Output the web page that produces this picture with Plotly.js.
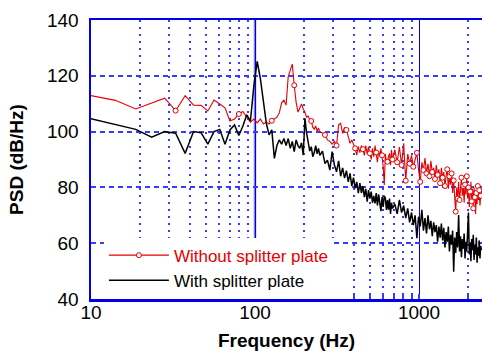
<!DOCTYPE html>
<html>
<head>
<meta charset="utf-8">
<script src="https://cdn.plot.ly/plotly-3.0.1.min.js"></script>
<style>
  html, body { margin: 0; padding: 0; background: #fff; }
  #chart { width: 482px; height: 351px; }
</style>
</head>
<body>
<div id="chart"></div>
<script>
// PSD spectra on the FFT bin grid (bin width 4.6875 Hz).
// Bins 2..53 every bin, 55..147 every 2nd bin, 152..512 every 5th bin.
const BIN_HZ = 4.6875;

// Without splitter plate (dB/Hz)
const redLow = [113.2, 111.2, 108.1, 110.3, 112.0, 107.5, 112.9, 109.5, 109.4, 107.4,
  111.3, 109.9, 108.5, 103.8, 104.5, 106.3, 107.2, 105.2, 103.4, 104.5,
  103.1, 104.5, 102.7, 103.4, 102.7, 103.9, 104.5, 105.2, 106.7, 110.3,
  111.3, 109.5, 119.7, 122.5, 124.2, 116.6, 110.5, 107.0, 108.5, 109.9,
  108.1, 107.0, 105.2, 105.6, 104.2, 103.8, 101.6, 100.9, 102.0, 100.2, 101.3, 99.9];
const redMid = [99.5, 98.8, 97.0, 96.5, 95.5, 96.5, 95.0, 102.4, 103.0, 99.4,
  101.5, 100.6, 98.2, 95.8, 97.0, 95.5, 94.0, 91.6, 94.6, 92.5,
  95.0, 93.7, 91.5, 95.0, 92.0, 94.5, 92.2, 90.0, 94.0, 91.0,
  95.0, 92.5, 89.0, 93.0, 91.0, 94.0, 91.5, 87.5, 80.9, 92.0,
  88.5, 89.2, 91.0, 92.2, 88.0, 93.5, 90.0];
const redHigh = [93.5, 89.0, 94.5, 88.0, 95.8, 82.4, 92.0, 88.5, 91.5, 87.4,
  90.5, 92.4, 86.2, 82.0, 89.0, 86.2, 90.5, 85.0, 88.5, 84.0,
  89.5, 85.5, 87.0, 83.0, 88.0, 84.5, 86.5, 81.5, 87.0, 83.5,
  85.5, 80.5, 84.0, 86.5, 79.5, 84.0, 81.0, 85.0, 78.0, 82.5,
  76.5, 71.3, 80.0, 76.0, 82.0, 75.5, 79.0, 83.5, 77.0, 80.5,
  74.5, 81.0, 77.5, 84.0, 76.0, 80.0, 73.0, 78.5, 82.0, 75.0,
  79.5, 72.5, 80.0, 76.5, 70.5, 78.0, 74.0, 80.5, 75.5, 79.0,
  73.5, 77.0, 78.5];

// With splitter plate (dB/Hz)
const blackLow = [105.0, 102.5, 100.8, 98.0, 100.0, 99.4, 92.2, 100.0, 99.6, 95.5,
  100.0, 100.8, 95.5, 100.6, 102.4, 98.6, 102.0, 106.0, 103.8, 116.5,
  125.2, 119.0, 110.0, 103.0, 98.8, 100.6, 90.4, 95.0, 97.0, 95.5,
  97.5, 95.0, 97.5, 94.0, 96.5, 92.8, 97.0, 95.0, 94.0, 96.0,
  91.6, 104.8, 99.5, 96.4, 93.0, 94.6, 91.0, 92.5, 95.0, 92.0, 94.0, 91.5];
const blackMid = [93.0, 88.5, 89.8, 86.2, 92.8, 88.0, 85.6, 89.5, 84.0, 87.0,
  83.3, 86.0, 82.0, 85.0, 80.5, 83.5, 79.7, 82.0, 77.9, 81.5,
  78.0, 80.5, 76.5, 79.5, 74.9, 79.0, 76.0, 78.5, 74.5, 77.0,
  74.3, 78.0, 73.5, 77.5, 75.0, 71.5, 76.5, 73.0, 77.0, 76.1,
  71.9, 75.5, 72.0, 76.0, 70.5, 74.5, 72.5];
const blackHigh = [74.0, 70.5, 75.5, 71.0, 73.5, 69.0, 72.5, 67.5, 71.0, 66.5,
  70.0, 61.8, 69.5, 66.0, 72.0, 64.5, 69.0, 63.5, 70.0, 65.0,
  68.0, 62.5, 67.5, 64.0, 66.5, 60.5, 66.0, 62.0, 67.0, 61.0,
  65.5, 58.5, 64.0, 60.5, 66.0, 57.0, 63.0, 59.5, 64.5, 49.8,
  62.0, 56.5, 64.0, 58.5, 70.1, 57.0, 62.5, 55.0, 61.5, 58.0,
  63.5, 54.5, 60.5, 57.0, 62.5, 71.0, 56.0, 60.0, 53.5, 61.5,
  57.5, 63.0, 54.0, 59.5, 56.0, 62.0, 53.0, 58.5, 55.5, 61.0,
  54.5, 59.0, 57.5];

const xTickVals = [10, 100, 1000];
const xTickText = ['10', '100', '1000'];
const xMinorVals = [20, 30, 40, 50, 60, 70, 80, 90, 200, 300, 400, 500, 600, 700, 800, 900, 2000];

function binRange(first, last, step) {
  const out = [];
  for (let k = first; k <= last; k += step) out.push(k);
  return out;
}
const bins = [].concat(binRange(2, 53, 1), binRange(55, 147, 2), binRange(152, 512, 5));
const freqHz = bins.map(k => k * BIN_HZ);
const psdWithout = [].concat(redLow, redMid, redHigh);
const psdWith = [].concat(blackLow, blackMid, blackHigh);

// open circles every 10th bin on the red curve
const markedIdx = [];
bins.forEach((k, i) => { if (k % 10 === 7) markedIdx.push(i); });

const RED = '#e60000';
const AXIS_BLUE = '#0000e6';
const GRID_BLUE = '#3a3aff';
const FONT = 'Arial, "Liberation Sans", sans-serif';

const traces = [
  {
    x: freqHz, y: psdWithout, type: 'scatter', mode: 'lines+markers',
    name: '<span style="color:' + RED + '">Without splitter plate</span>',
    line: { color: RED, width: 1.1 },
    marker: { symbol: 'circle', size: 5, color: '#ffffff', line: { color: RED, width: 1 } },
    selectedpoints: markedIdx,
    selected: { marker: { opacity: 1 } },
    unselected: { marker: { opacity: 0 } },
    hoverinfo: 'skip'
  },
  {
    x: freqHz, y: psdWith, type: 'scatter', mode: 'lines',
    name: 'With splitter plate',
    line: { color: '#000000', width: 1.5 },
    hoverinfo: 'skip'
  }
];

const layout = {
  width: 482, height: 351,
  margin: { l: 91, r: 0, t: 20, b: 52 },
  paper_bgcolor: '#ffffff', plot_bgcolor: '#ffffff',
  font: { family: FONT, size: 19, color: '#000' },
  showlegend: true,
  legend: {
    x: 0.033, y: 0.22, xanchor: 'left', yanchor: 'top',
    bgcolor: '#ffffff', borderwidth: 0,
    font: { family: FONT, size: 17, color: '#000' },
    itemwidth: 60, entrywidth: 240, tracegroupgap: 0
  },
  xaxis: {
    type: 'log', range: [1, 3.384],
    tickmode: 'array', tickvals: xTickVals, ticktext: xTickText,
    ticks: 'inside', ticklen: 5, tickcolor: GRID_BLUE, tickwidth: 2,
    ticklabelstandoff: -5,
    showgrid: true, gridcolor: AXIS_BLUE, gridwidth: 1,
    minor: {
      tickmode: 'array', tickvals: xMinorVals,
      ticks: 'inside', ticklen: 4, tickcolor: GRID_BLUE, tickwidth: 2,
      showgrid: true, gridcolor: GRID_BLUE, gridwidth: 2, griddash: '2px,5px'
    },
    showline: true, linecolor: AXIS_BLUE, linewidth: 2.5, mirror: true,
    zeroline: false,
    tickfont: { family: FONT, size: 19, color: '#000' },
    title: { text: 'Frequency (Hz)', standoff: 15,
             font: { family: FONT, size: 19, weight: 'bold', color: '#000' } }
  },
  yaxis: {
    range: [40, 140], tickmode: 'linear', tick0: 40, dtick: 20,
    ticks: 'inside', ticklen: 5, tickcolor: GRID_BLUE, tickwidth: 2,
    ticklabelstandoff: 6,
    showgrid: true, gridcolor: GRID_BLUE, gridwidth: 2, griddash: '5px,4px',
    showline: true, linecolor: AXIS_BLUE, linewidth: 2.5, mirror: true,
    zeroline: false,
    tickfont: { family: FONT, size: 19, color: '#000' },
    title: { text: 'PSD (dB/Hz)', standoff: 19,
             font: { family: FONT, size: 19, weight: 'bold', color: '#000' } }
  },
  shapes: [
    { type: 'line', xref: 'x', yref: 'paper', x0: 100, x1: 100, y0: 0, y1: 1,
      layer: 'between', line: { color: 'rgb(125,125,240)', width: 2.5 } }
  ]
};

Plotly.newPlot('chart', traces, layout, { staticPlot: true, displayModeBar: false });
</script>
</body>
</html>
